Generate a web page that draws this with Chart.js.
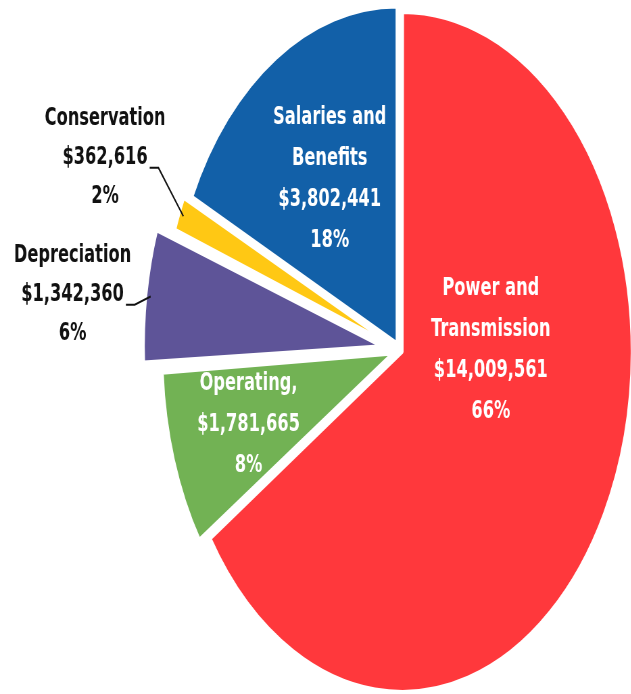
<!DOCTYPE html>
<html>
<head>
<meta charset="utf-8">
<script src="https://cdn.jsdelivr.net/npm/chart.js@4.4.1/dist/chart.umd.min.js"></script>
<style>
  html, body { margin: 0; padding: 0; background: #fff; overflow: hidden; }
  #wrap { width: 631px; height: 694px; overflow: hidden; }
  /* the original pie is squeezed sideways, so draw a round one and squeeze it */
  #pie { transform: scaleX(0.676); transform-origin: 0 0; }
</style>
</head>
<body>
<div id="wrap"><canvas id="pie" width="934" height="694"></canvas></div>
<script>
var categories = ['Power and\nTransmission', 'Operating,', 'Depreciation', 'Conservation', 'Salaries and\nBenefits'];
var amounts = [14009561, 1781665, 1342360, 362616, 3802441];
var colors = ['#FF383C', '#72B254', '#5E5498', '#FFC814', '#1260A8'];
var explode = [16, 44, 108, 38, 32];

// where each label sits: clock angle in degrees and distance as share of the radius
var labelAngle = [89.5, 251.4, 276.4, 293.8, 328.7];
var labelDist = [0.39, 0.67, 1.37, 1.39, 0.57];
var labelOutside = [false, false, true, true, false];

var total = amounts.reduce(function (a, b) { return a + b; }, 0);

var sliceLabels = {
  id: 'sliceLabels',
  afterDatasetsDraw: function (chart) {
    var ctx = chart.ctx;
    var arcs = chart.getDatasetMeta(0).data;
    arcs.forEach(function (arc, i) {
      var p = arc.getProps(['x', 'y', 'startAngle', 'endAngle', 'outerRadius', 'circumference'], true);
      var mid = (p.startAngle + p.endAngle) / 2;
      var shift = explode[i] / 4;
      var cx = p.x + Math.cos(mid) * shift;
      var cy = p.y + Math.sin(mid) * shift;
      var ang = (labelAngle[i] - 90) * Math.PI / 180;
      var lx = cx + Math.cos(ang) * p.outerRadius * labelDist[i];
      var ly = cy + Math.sin(ang) * p.outerRadius * labelDist[i];

      var lines = categories[i].split('\n');
      lines.push('$' + amounts[i].toLocaleString('en-US'));
      lines.push(Math.round(amounts[i] / total * 100) + '%');

      var outside = labelOutside[i];
      var lh = outside ? 39 : 41;
      ctx.save();
      ctx.font = 'bold 24px "DejaVu Sans"';
      ctx.fillStyle = outside ? '#111' : '#fff';
      ctx.textAlign = 'center';
      ctx.textBaseline = 'middle';
      var n = lines.length;
      lines.forEach(function (t, k) {
        ctx.fillText(t, lx, ly + (k - (n - 1) / 2) * lh);
      });

      if (outside) {
        var vk = n - 2;
        var w = ctx.measureText(lines[vk]).width;
        var sx = lx + w / 2 + 3;
        var sy = ly + (vk - (n - 1) / 2) * lh + 10;
        var fix = 1 - Math.sin(Math.min(Math.PI, p.circumference));
        var rr = (p.outerRadius + shift * fix) * 0.98;
        var ax = cx + Math.cos(mid) * rr;
        var ay = cy + Math.sin(mid) * rr;
        ctx.strokeStyle = '#111';
        ctx.lineWidth = 2;
        ctx.beginPath();
        ctx.moveTo(sx, sy);
        ctx.lineTo(sx + 13, sy);
        ctx.lineTo(ax, ay);
        ctx.stroke();
      }
      ctx.restore();
    });
  }
};

var ctx = document.getElementById('pie').getContext('2d');
var chart = new Chart(ctx, {
  type: 'pie',
  data: {
    labels: categories,
    datasets: [{
      data: amounts,
      backgroundColor: colors,
      borderColor: '#fff',
      borderWidth: 4,
      offset: explode,
      radius: 336
    }]
  },
  options: {
    responsive: false,
    animation: false,
    layout: { padding: { left: 249, top: 6, right: 0, bottom: 0 } },
    plugins: {
      legend: { display: false },
      tooltip: { enabled: false }
    }
  },
  plugins: [sliceLabels]
});
</script>
</body>
</html>
